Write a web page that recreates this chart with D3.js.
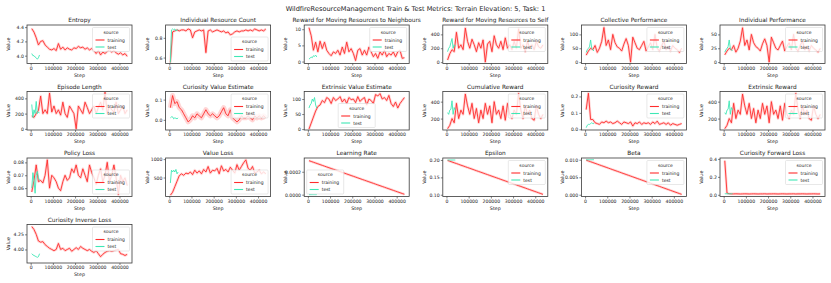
<!DOCTYPE html>
<html>
<head>
<meta charset="utf-8">
<script src="https://cdn.jsdelivr.net/npm/d3@7"></script>
<style>
  body { margin: 0; background: #fff; }
  text { font-family: "DejaVu Sans", sans-serif; fill: #222; }
</style>
</head>
<body>
<svg id="metrics"></svg>
<script>
var width = 831;
var height = 283;

// training logged every 10000 steps, test only at the start
var steps = [5000, 15000, 25000, 35000, 45000, 55000, 65000, 75000, 85000, 95000,
             105000, 115000, 125000, 135000, 145000, 155000, 165000, 175000, 185000, 195000,
             205000, 215000, 225000, 235000, 245000, 255000, 265000, 275000, 285000, 295000,
             305000, 315000, 325000, 335000, 345000, 355000, 365000, 375000, 385000, 395000,
             405000, 415000, 425000, 435000];
var testSteps = [5000, 10000, 15000, 20000, 25000, 30000, 35000, 40000];

var entropyTrain = [4.38, 4.33, 4.25, 4.15, 4.20, 4.21, 4.15, 4.12, 4.09, 4.08, 4.10, 4.07, 4.17, 4.09, 4.12,
                    4.08, 4.11, 4.09, 4.08, 4.11, 4.10, 4.13, 4.11, 4.12, 4.09, 4.11, 4.08, 4.10, 4.07, 4.03,
                    4.07, 4.01, 4.05, 4.03, 4.06, 4.08, 4.05, 4.07, 4.04, 4.02, 4.04, 4.01, 4.03, 3.99];
var entropyTest = [4.03, 4.00, 4.00, 3.98, 3.97, 3.95, 3.97, 4.01];

var resourceCountTrain = [0.55, 0.86, 0.87, 0.88, 0.87, 0.88, 0.88, 0.87, 0.89, 0.88, 0.80, 0.86, 0.87, 0.88, 0.87,
                          0.88, 0.65, 0.87, 0.88, 0.86, 0.87, 0.88, 0.87, 0.86, 0.87, 0.85, 0.86, 0.83, 0.84, 0.86,
                          0.87, 0.86, 0.87, 0.87, 0.88, 0.87, 0.88, 0.87, 0.89, 0.88, 0.87, 0.88, 0.87, 0.89];
var resourceCountTest = [0.55, 0.88, 0.89, 0.88, 0.89, 0.87, 0.88, 0.88];

var rewardNeighboursTrain = [10.5, 8.0, 3.5, 6.0, 3.0, 6.3, 4.0, 6.0, 3.5, 2.5, 1.8, 3.0, 2.5, 3.5, 2.0,
                             4.5, 2.5, 6.0, 3.0, 4.0, 2.5, 0.3, 3.5, 4.0, 2.0, 3.5, 2.0, 4.5, 3.0, 1.5,
                             2.5, 1.0, 3.0, 2.0, 3.5, 1.5, 2.5, 2.0, 3.0, 1.5, 3.0, 3.5, 1.0, 1.2];
var rewardNeighboursTest = [0.8, 1.0, 1.4, 1.2, 1.8, 1.6, 2.0, 1.4];

var rewardSelfTrain = [30, 120, 180, 150, 430, 200, 250, 180, 490, 300, 200, 330, 250, 150, 280,
                       200, 320, 0, 260, 300, 150, 380, 250, 200, 300, 180, 350, 200, 250, 180,
                       300, 200, 480, 200, 250, 150, 300, 200, 250, 180, 300, 220, 200, 250];
var rewardSelfTest = [150, 200, 220, 280, 340, 200, 250, 230];

var collectivePerfTrain = [25, 40, 50, 45, 60, 35, 50, 75, 125, 60, 80, 45, 100, 70, 55,
                           50, 40, 65, 85, 60, 0, 90, 70, 50, 45, 60, 75, 40, 55, 70,
                           45, 100, 50, 40, 60, 75, 45, 55, 40, 60, 50, 45, 35, 50];
var collectivePerfTest = [35, 45, 50, 55, 80, 50, 45, 40];

var individualPerfTrain = [13, 20, 25, 22, 30, 18, 25, 38, 62, 30, 40, 22, 50, 35, 28,
                           25, 20, 33, 42, 30, 0, 45, 35, 25, 22, 30, 38, 20, 28, 35,
                           22, 50, 25, 20, 30, 38, 22, 28, 20, 30, 25, 22, 18, 25];
var individualPerfTest = [18, 22, 25, 28, 40, 25, 22, 20];

var episodeLengthTrain = [170, 150, 200, 240, 430, 200, 250, 200, 470, 220, 300, 200, 250, 180, 350,
                          200, 150, 300, 250, 200, 0, 300, 250, 200, 350, 280, 200, 250, 300, 200,
                          280, 350, 250, 480, 200, 300, 250, 220, 350, 200, 250, 300, 200, 250];
var episodeLengthTest = [320, 150, 250, 200, 360, 200, 220, 210];

var curiosityValueTrain = [0.06, 0.12, 0.08, 0.09, 0.06, 0.05, 0.03, 0.01, -0.01, 0.00, 0.02, 0.01, 0.03, 0.02, 0.01,
                           0.03, 0.05, 0.03, 0.02, 0.03, 0.02, 0.01, 0.02, 0.04, 0.06, 0.03, 0.02, 0.05, 0.01, 0.00,
                           -0.01, 0.00, 0.02, 0.01, 0.01, 0.02, 0.01, 0.00, 0.02, 0.01, 0.02, 0.01, 0.02, 0.01];
var curiosityValueTest = [0.010, 0.015, 0.015, 0.005, 0.010, 0.008, 0.005, 0.010];

var extrinsicValueTrain = [0, 20, 40, 60, 75, 80, 95, 88, 105, 100, 85, 105, 95, 100, 108,
                           90, 100, 85, 105, 98, 100, 88, 108, 92, 100, 105, 80, 100, 95, 85,
                           115, 110, 118, 100, 105, 95, 112, 85, 75, 90, 70, 85, 95, 105];
var extrinsicValueTest = [70, 80, 85, 100, 92, 105, 80, 70];

var cumulativeRewardTrain = [80, 120, 200, 150, 380, 200, 300, 250, 490, 350, 250, 380, 200, 320, 150,
                             300, 200, 380, 250, 350, 150, 400, 250, 300, 200, 350, 180, 380, 250, 200,
                             300, 250, 500, 300, 200, 350, 250, 300, 200, 180, 350, 250, 200, 250];
var cumulativeRewardTest = [270, 250, 300, 310, 410, 250, 330, 300];

var curiosityRewardTrain = [0.12, 0.22, 0.06, 0.06, 0.04, 0.035, 0.03, 0.045, 0.04, 0.05, 0.04, 0.045, 0.035, 0.04, 0.05,
                            0.04, 0.03, 0.045, 0.04, 0.035, 0.045, 0.02, 0.04, 0.035, 0.045, 0.03, 0.04, 0.035, 0.04, 0.03,
                            0.045, 0.035, 0.05, 0.03, 0.035, 0.04, 0.03, 0.04, 0.025, 0.035, 0.03, 0.025, 0.03, 0.035];
var curiosityRewardTest = [0.01, 0.025, 0.03, 0.03, 0.035, 0.04, 0.035, 0.035];

var extrinsicRewardTrain = [80, 120, 200, 150, 380, 200, 300, 250, 490, 350, 250, 380, 200, 320, 150,
                            300, 200, 380, 250, 350, 150, 400, 250, 300, 200, 350, 180, 380, 250, 200,
                            300, 250, 500, 300, 200, 350, 250, 300, 200, 180, 350, 250, 200, 250];
var extrinsicRewardTest = [270, 250, 300, 310, 410, 250, 330, 300];

var policyLossTrain = [0.057, 0.066, 0.078, 0.065, 0.066, 0.064, 0.070, 0.082, 0.060, 0.070, 0.068, 0.065, 0.060, 0.058, 0.065,
                       0.070, 0.066, 0.068, 0.075, 0.072, 0.078, 0.070, 0.068, 0.075, 0.070, 0.065, 0.078, 0.072, 0.068, 0.063,
                       0.070, 0.075, 0.065, 0.070, 0.080, 0.065, 0.070, 0.078, 0.068, 0.055, 0.070, 0.065, 0.068, 0.062];
var policyLossTest = [0.060, 0.072, 0.066, 0.056, 0.070, 0.073, 0.068, 0.066];

var valueLossTrain = [20, 100, 250, 400, 550, 600, 560, 620, 600, 650, 580, 700, 620, 680, 600,
                      720, 650, 800, 620, 700, 680, 750, 600, 820, 680, 720, 650, 780, 700, 620,
                      850, 700, 800, 900, 980, 750, 700, 800, 620, 650, 700, 600, 650, 600];
var valueLossTest = [350, 700, 650, 700, 650, 720, 600, 650];

var learningRateTrain = [2.966e-4, 2.898e-4, 2.830e-4, 2.761e-4, 2.693e-4, 2.625e-4, 2.557e-4, 2.489e-4, 2.420e-4, 2.352e-4,
                         2.284e-4, 2.216e-4, 2.148e-4, 2.080e-4, 2.011e-4, 1.943e-4, 1.875e-4, 1.807e-4, 1.739e-4, 1.670e-4,
                         1.602e-4, 1.534e-4, 1.466e-4, 1.398e-4, 1.329e-4, 1.261e-4, 1.193e-4, 1.125e-4, 1.057e-4, 0.989e-4,
                         0.920e-4, 0.852e-4, 0.784e-4, 0.716e-4, 0.648e-4, 0.579e-4, 0.511e-4, 0.443e-4, 0.375e-4, 0.307e-4,
                         0.239e-4, 0.170e-4, 0.102e-4, 0.034e-4];
var learningRateTest = [0, 0, 0, 0, 0, 0, 0, 0];

var epsilonTrain = [0.1989, 0.1966, 0.1943, 0.1920, 0.1898, 0.1875, 0.1852, 0.1830, 0.1807, 0.1784,
                    0.1761, 0.1739, 0.1716, 0.1693, 0.1670, 0.1648, 0.1625, 0.1602, 0.1580, 0.1557,
                    0.1534, 0.1511, 0.1489, 0.1466, 0.1443, 0.1420, 0.1398, 0.1375, 0.1352, 0.1330,
                    0.1307, 0.1284, 0.1261, 0.1239, 0.1216, 0.1193, 0.1170, 0.1148, 0.1125, 0.1102,
                    0.1080, 0.1057, 0.1034, 0.1011];
var epsilonTest = [0.2, 0.2, 0.2, 0.2, 0.2, 0.2, 0.2, 0.2];

var betaTrain = [0.009886, 0.009659, 0.009432, 0.009205, 0.008977, 0.008750, 0.008523, 0.008295, 0.008068, 0.007841,
                 0.007614, 0.007386, 0.007159, 0.006932, 0.006705, 0.006477, 0.006250, 0.006023, 0.005795, 0.005568,
                 0.005341, 0.005114, 0.004886, 0.004659, 0.004432, 0.004205, 0.003977, 0.003750, 0.003523, 0.003295,
                 0.003068, 0.002841, 0.002614, 0.002386, 0.002159, 0.001932, 0.001705, 0.001477, 0.001250, 0.001023,
                 0.000795, 0.000568, 0.000341, 0.000114];
var betaTest = [0.01, 0.01, 0.01, 0.01, 0.01, 0.01, 0.01, 0.01];

var forwardLossTrain = [0.38, 0.02, 0.012, 0.010, 0.010, 0.011, 0.010, 0.009, 0.010, 0.011, 0.010, 0.009, 0.010, 0.011, 0.010,
                        0.009, 0.010, 0.010, 0.011, 0.009, 0.010, 0.010, 0.011, 0.010, 0.009, 0.010, 0.011, 0.010, 0.009, 0.010,
                        0.010, 0.011, 0.009, 0.010, 0.010, 0.011, 0.010, 0.009, 0.010, 0.010, 0.011, 0.010, 0.009, 0.010];
var forwardLossTest = [0.012, 0.011, 0.012, 0.010, 0.011, 0.012, 0.011, 0.012];

var inverseLossTrain = [4.38, 4.33, 4.25, 4.14, 4.12, 4.13, 4.08, 4.05, 4.02, 4.00, 3.98, 4.00, 4.10, 4.00, 4.02,
                        3.98, 4.00, 4.02, 3.97, 4.00, 4.03, 4.00, 4.05, 4.02, 4.00, 3.98, 4.00, 3.97, 3.95, 3.98,
                        3.93, 3.88, 3.92, 3.95, 3.97, 3.98, 3.97, 3.98, 3.99, 4.00, 3.93, 3.92, 3.90, 3.92];
var inverseLossTest = [3.93, 3.91, 3.90, 3.89, 3.88, 3.87, 3.88, 3.93];

var panels = [
  {title: "Entropy", train: entropyTrain, test: entropyTest, y: [3.89, 4.43], ticks: [4.0, 4.2, 4.4], fmt: ".1f", legend: "ur"},
  {title: "Individual Resource Count", train: resourceCountTrain, test: resourceCountTest, y: [0.54, 0.93], ticks: [0.6, 0.8], fmt: ".1f", legend: "lr"},
  {title: "Reward for Moving Resources to Neighbours", train: rewardNeighboursTrain, test: rewardNeighboursTest, y: [-0.6, 11.3], ticks: [0, 5, 10], fmt: "d", legend: "ur"},
  {title: "Reward for Moving Resources to Self", train: rewardSelfTrain, test: rewardSelfTest, y: [-20, 535], ticks: [0, 200, 400], fmt: "d", legend: "ur"},
  {title: "Collective Performance", train: collectivePerfTrain, test: collectivePerfTest, y: [-5, 134], ticks: [0, 50, 100], fmt: "d", legend: "ur"},
  {title: "Individual Performance", train: individualPerfTrain, test: individualPerfTest, y: [-2.5, 67], ticks: [0, 25, 50], fmt: "d", legend: "ur"},
  {title: "Episode Length", train: episodeLengthTrain, test: episodeLengthTest, y: [-15, 490], ticks: [0, 200, 400], fmt: "d", legend: "ur"},
  {title: "Curiosity Value Estimate", train: curiosityValueTrain, test: curiosityValueTest, y: [-0.05, 0.14], ticks: [0.0, 0.1], fmt: ".1f", legend: "ur", band: 5},
  {title: "Extrinsic Value Estimate", train: extrinsicValueTrain, test: extrinsicValueTest, y: [-3, 125], ticks: [0, 50, 100], fmt: "d", legend: "lc"},
  {title: "Cumulative Reward", train: cumulativeRewardTrain, test: cumulativeRewardTest, y: [65, 520], ticks: [200, 400], fmt: "d", legend: "ur"},
  {title: "Curiosity Reward", train: curiosityRewardTrain, test: curiosityRewardTest, y: [-0.004, 0.23], ticks: [0.0, 0.1, 0.2], fmt: ".1f", legend: "ur"},
  {title: "Extrinsic Reward", train: extrinsicRewardTrain, test: extrinsicRewardTest, y: [65, 520], ticks: [200, 400], fmt: "d", legend: "ur"},
  {title: "Policy Loss", train: policyLossTrain, test: policyLossTest, y: [0.0535, 0.0834], ticks: [0.06, 0.07, 0.08], fmt: ".2f", legend: "lr"},
  {title: "Value Loss", train: valueLossTrain, test: valueLossTest, y: [-15, 1030], ticks: [500, 1000], fmt: "d", legend: "lr"},
  {title: "Learning Rate", train: learningRateTrain, test: learningRateTest, y: [-0.000016, 0.00032], ticks: [0, 0.0002], fmt: ".4f", legend: "ll"},
  {title: "Epsilon", train: epsilonTrain, test: epsilonTest, y: [0.095, 0.2058], ticks: [0.10, 0.15, 0.20], fmt: ".2f", legend: "ur"},
  {title: "Beta", train: betaTrain, test: betaTest, y: [-0.0005, 0.0105], ticks: [0, 0.005, 0.010], fmt: ".3f", legend: "ur"},
  {title: "Curiosity Forward Loss", train: forwardLossTrain, test: forwardLossTest, y: [-0.019, 0.41], ticks: [0.0, 0.2, 0.4], fmt: ".1f", legend: "ur"},
  {title: "Curiosity Inverse Loss", train: inverseLossTrain, test: inverseLossTest, y: [3.776, 4.413], ticks: [4.00, 4.25], fmt: ".2f", legend: "ur"}
];

var trainColor = "#ff2d2d";
var testColor = "#3ee8b5";

var svg = d3.select("#metrics").attr("width", width).attr("height", height);

svg.append("text")
  .attr("x", width / 2)
  .attr("y", 11)
  .attr("text-anchor", "middle")
  .style("font-size", "6.6px")
  .text("WildfireResourceManagement Train & Test Metrics: Terrain Elevation: 5, Task: 1");

var plotW = 105, plotH = 38.5;
var colX = 27, colStep = 138.6;
var rowY = 25, rowStep = 66.5;

// x padding like matplotlib: 5% of the data span on both sides
var xPad = (d3.max(steps) - d3.min(steps)) * 0.05;

panels.forEach(function(p, i) {
  var left = colX + (i % 6) * colStep;
  var top = rowY + Math.floor(i / 6) * rowStep;

  var g = svg.append("g").attr("transform", `translate(${left},${top})`);

  var xScale = d3.scaleLinear()
    .domain([d3.min(steps) - xPad, d3.max(steps) + xPad])
    .range([0, plotW]);
  var yScale = d3.scaleLinear()
    .domain(p.y)
    .range([plotH, 0]);

  var clipId = "clip" + i;
  g.append("clipPath").attr("id", clipId)
    .append("rect").attr("width", plotW).attr("height", plotH);

  var line = d3.line()
    .x(function(d) { return xScale(d[0]); })
    .y(function(d) { return yScale(d[1]); });

  var trainPts = d3.zip(steps, p.train);
  var testPts = d3.zip(testSteps, p.test);

  var marks = g.append("g").attr("clip-path", `url(#${clipId})`);

  // light band standing in for the confidence interval
  marks.append("path")
    .datum(trainPts)
    .attr("d", line)
    .attr("fill", "none")
    .attr("stroke", "#ff8a8a")
    .attr("stroke-opacity", 0.35)
    .attr("stroke-width", p.band || 2.6)
    .attr("stroke-linejoin", "round");

  marks.append("path")
    .datum(trainPts)
    .attr("d", line)
    .attr("fill", "none")
    .attr("stroke", trainColor)
    .attr("stroke-width", 0.9);

  marks.append("path")
    .datum(testPts)
    .attr("d", line)
    .attr("fill", "none")
    .attr("stroke", testColor)
    .attr("stroke-width", 0.9);

  var xAxis = g.append("g")
    .attr("transform", `translate(0,${plotH})`)
    .call(d3.axisBottom(xScale)
      .tickValues([0, 100000, 200000, 300000, 400000])
      .tickFormat(d3.format("d"))
      .tickSize(2)
      .tickPadding(1.2));

  var yAxis = g.append("g")
    .call(d3.axisLeft(yScale)
      .tickValues(p.ticks)
      .tickFormat(d3.format(p.fmt))
      .tickSize(2)
      .tickPadding(1.2));

  [xAxis, yAxis].forEach(function(a) {
    a.select(".domain").remove();
    a.selectAll("line").attr("stroke", "#333").attr("stroke-width", 0.6);
    a.selectAll("text").style("font-size", "4.6px").attr("fill", "#222");
  });

  g.append("rect")
    .attr("width", plotW)
    .attr("height", plotH)
    .attr("fill", "none")
    .attr("stroke", "#3a3a3a")
    .attr("stroke-width", 0.8);

  g.append("text")
    .attr("x", plotW / 2)
    .attr("y", -3)
    .attr("text-anchor", "middle")
    .style("font-size", "5.8px")
    .text(p.title);

  g.append("text")
    .attr("x", plotW / 2)
    .attr("y", plotH + 13)
    .attr("text-anchor", "middle")
    .style("font-size", "4.8px")
    .text("Step");

  g.append("text")
    .attr("transform", `translate(-17,${plotH / 2}) rotate(-90)`)
    .attr("text-anchor", "middle")
    .style("font-size", "4.8px")
    .text("Value");

  // legend
  var lw = 37, lh = 24, inset = 2.5;
  var lx = plotW - lw - inset, ly = inset;
  if (p.legend === "lr") { ly = plotH - lh - inset; }
  if (p.legend === "ll") { lx = inset; ly = plotH - lh - inset; }
  if (p.legend === "lc") { lx = (plotW - lw) / 2; ly = plotH - lh - inset; }

  var leg = g.append("g").attr("transform", `translate(${lx},${ly})`);
  leg.append("rect")
    .attr("width", lw)
    .attr("height", lh)
    .attr("rx", 1)
    .attr("fill", "#fff")
    .attr("fill-opacity", 0.8)
    .attr("stroke", "#d0d0d0")
    .attr("stroke-width", 0.5);
  leg.append("text")
    .attr("x", lw / 2)
    .attr("y", 6.2)
    .attr("text-anchor", "middle")
    .style("font-size", "4.5px")
    .text("source");
  [["training", trainColor], ["test", testColor]].forEach(function(e, k) {
    var yy = 12.5 + k * 7;
    leg.append("line")
      .attr("x1", 3).attr("x2", 12)
      .attr("y1", yy).attr("y2", yy)
      .attr("stroke", e[1])
      .attr("stroke-width", 1.1);
    leg.append("text")
      .attr("x", 15)
      .attr("y", yy + 1.6)
      .style("font-size", "4.5px")
      .text(e[0]);
  });
});
</script>
</body>
</html>
